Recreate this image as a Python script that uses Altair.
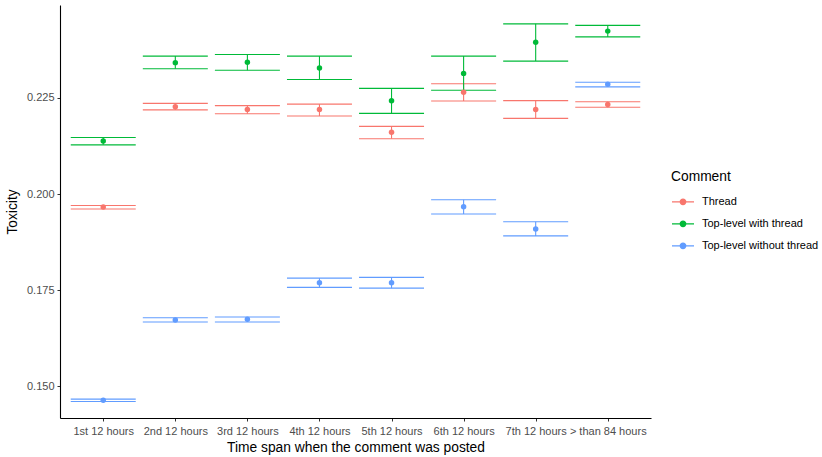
import altair as alt
import pandas as pd

periods = ["1st 12 hours", "2nd 12 hours", "3rd 12 hours", "4th 12 hours",
           "5th 12 hours", "6th 12 hours", "7th 12 hours", "> than 84 hours"]
groups = ["Thread", "Top-level with thread", "Top-level without thread"]
palette = ["#F8766D", "#00BA38", "#619CFF"]

thread_mean = [0.1966, 0.2227, 0.2220, 0.2220, 0.2161, 0.2265, 0.2220, 0.2233]
thread_low  = [0.1961, 0.2219, 0.2209, 0.2203, 0.2144, 0.2242, 0.2197, 0.2226]
thread_high = [0.1970, 0.2236, 0.2230, 0.2234, 0.2176, 0.2287, 0.2243, 0.2240]

with_mean = [0.2138, 0.2342, 0.2343, 0.2328, 0.2243, 0.2314, 0.2395, 0.2424]
with_low  = [0.2128, 0.2326, 0.2322, 0.2298, 0.2210, 0.2270, 0.2346, 0.2409]
with_high = [0.2147, 0.2359, 0.2363, 0.2359, 0.2275, 0.2359, 0.2443, 0.2439]

without_mean = [0.1463, 0.1672, 0.1674, 0.1769, 0.1769, 0.1967, 0.1909, 0.2286]
without_low  = [0.1460, 0.1667, 0.1667, 0.1757, 0.1755, 0.1948, 0.1891, 0.2279]
without_high = [0.1466, 0.1678, 0.1680, 0.1781, 0.1783, 0.1985, 0.1928, 0.2291]

rows = []
for g, m, lo, hi in [
    (groups[0], thread_mean, thread_low, thread_high),
    (groups[1], with_mean, with_low, with_high),
    (groups[2], without_mean, without_low, without_high),
]:
    for p, a, b, c in zip(periods, m, lo, hi):
        rows.append({"period": p, "group": g, "mean": a, "low": b, "high": c})
df = pd.DataFrame(rows)

FONT = "Liberation Sans"
LABEL_SIZE = 11
TITLE_SIZE = 13.8

x = alt.X("period:N", sort=periods,
          scale=alt.Scale(type="point", padding=0.6),
          axis=alt.Axis(title="Time span when the comment was posted",
                        labelOverlap=False, labelBound=False, labelAngle=0,
                        labelFontSize=LABEL_SIZE, labelColor="#4D4D4D", labelPadding=4,
                        tickColor="#333333", tickSize=3, domainColor="#000000",
                        domainWidth=1.1, titleFontSize=TITLE_SIZE, titleFontWeight="normal",
                        titleColor="#000000", titlePadding=4, grid=False))
y_scale = alt.Scale(domain=[0.1417, 0.2492], nice=False, zero=False)
y_axis = alt.Axis(title="Toxicity", values=[0.150, 0.175, 0.200, 0.225], format=".3f",
                  labelFontSize=LABEL_SIZE, labelColor="#4D4D4D", labelPadding=3,
                  tickColor="#333333", tickSize=3, domainColor="#000000",
                  domainWidth=1.1, titleFontSize=TITLE_SIZE, titleFontWeight="normal",
                  titleColor="#000000", titlePadding=7, grid=False)

legend_symbol = "M-1,0H1M-0.25,0A0.25,0.25 0 1,1 0.25,0A0.25,0.25 0 1,1 -0.25,0Z"
color = alt.Color("group:N", scale=alt.Scale(domain=groups, range=palette),
                  legend=alt.Legend(title="Comment", orient="none",
                                    legendX=611, legendY=165,
                                    symbolType=legend_symbol, symbolSize=484,
                                    symbolStrokeWidth=1.3, symbolOpacity=1,
                                    rowPadding=4,
                                    labelFontSize=LABEL_SIZE, labelColor="#000000",
                                    titleFontSize=TITLE_SIZE, titleFontWeight="normal",
                                    titleColor="#000000", titlePadding=6,
                                    labelOffset=7))

base = alt.Chart(df)

upper = base.mark_tick(size=65, thickness=1.1, opacity=1).encode(
    x=x, y=alt.Y("high:Q", scale=y_scale, axis=y_axis), color=color)
lower = base.mark_tick(size=65, thickness=1.1, opacity=1).encode(
    x=x, y=alt.Y("low:Q"), color=color)
stem = base.mark_rule(strokeWidth=1.1, opacity=1).encode(
    x=x, y=alt.Y("low:Q"), y2="high:Q", color=color)
points = base.mark_circle(size=30, opacity=1).encode(
    x=x, y=alt.Y("mean:Q"), color=color)

chart = alt.layer(upper, lower, stem, points).properties(
    width=591, height=413,
    autosize=alt.AutoSizeParams(type="none"),
    padding={"left": 60, "top": 5, "right": 171, "bottom": 39},
).configure(font=FONT).configure_view(stroke=None)

chart.save("out.html", embed_options={"renderer": "svg", "actions": False})
